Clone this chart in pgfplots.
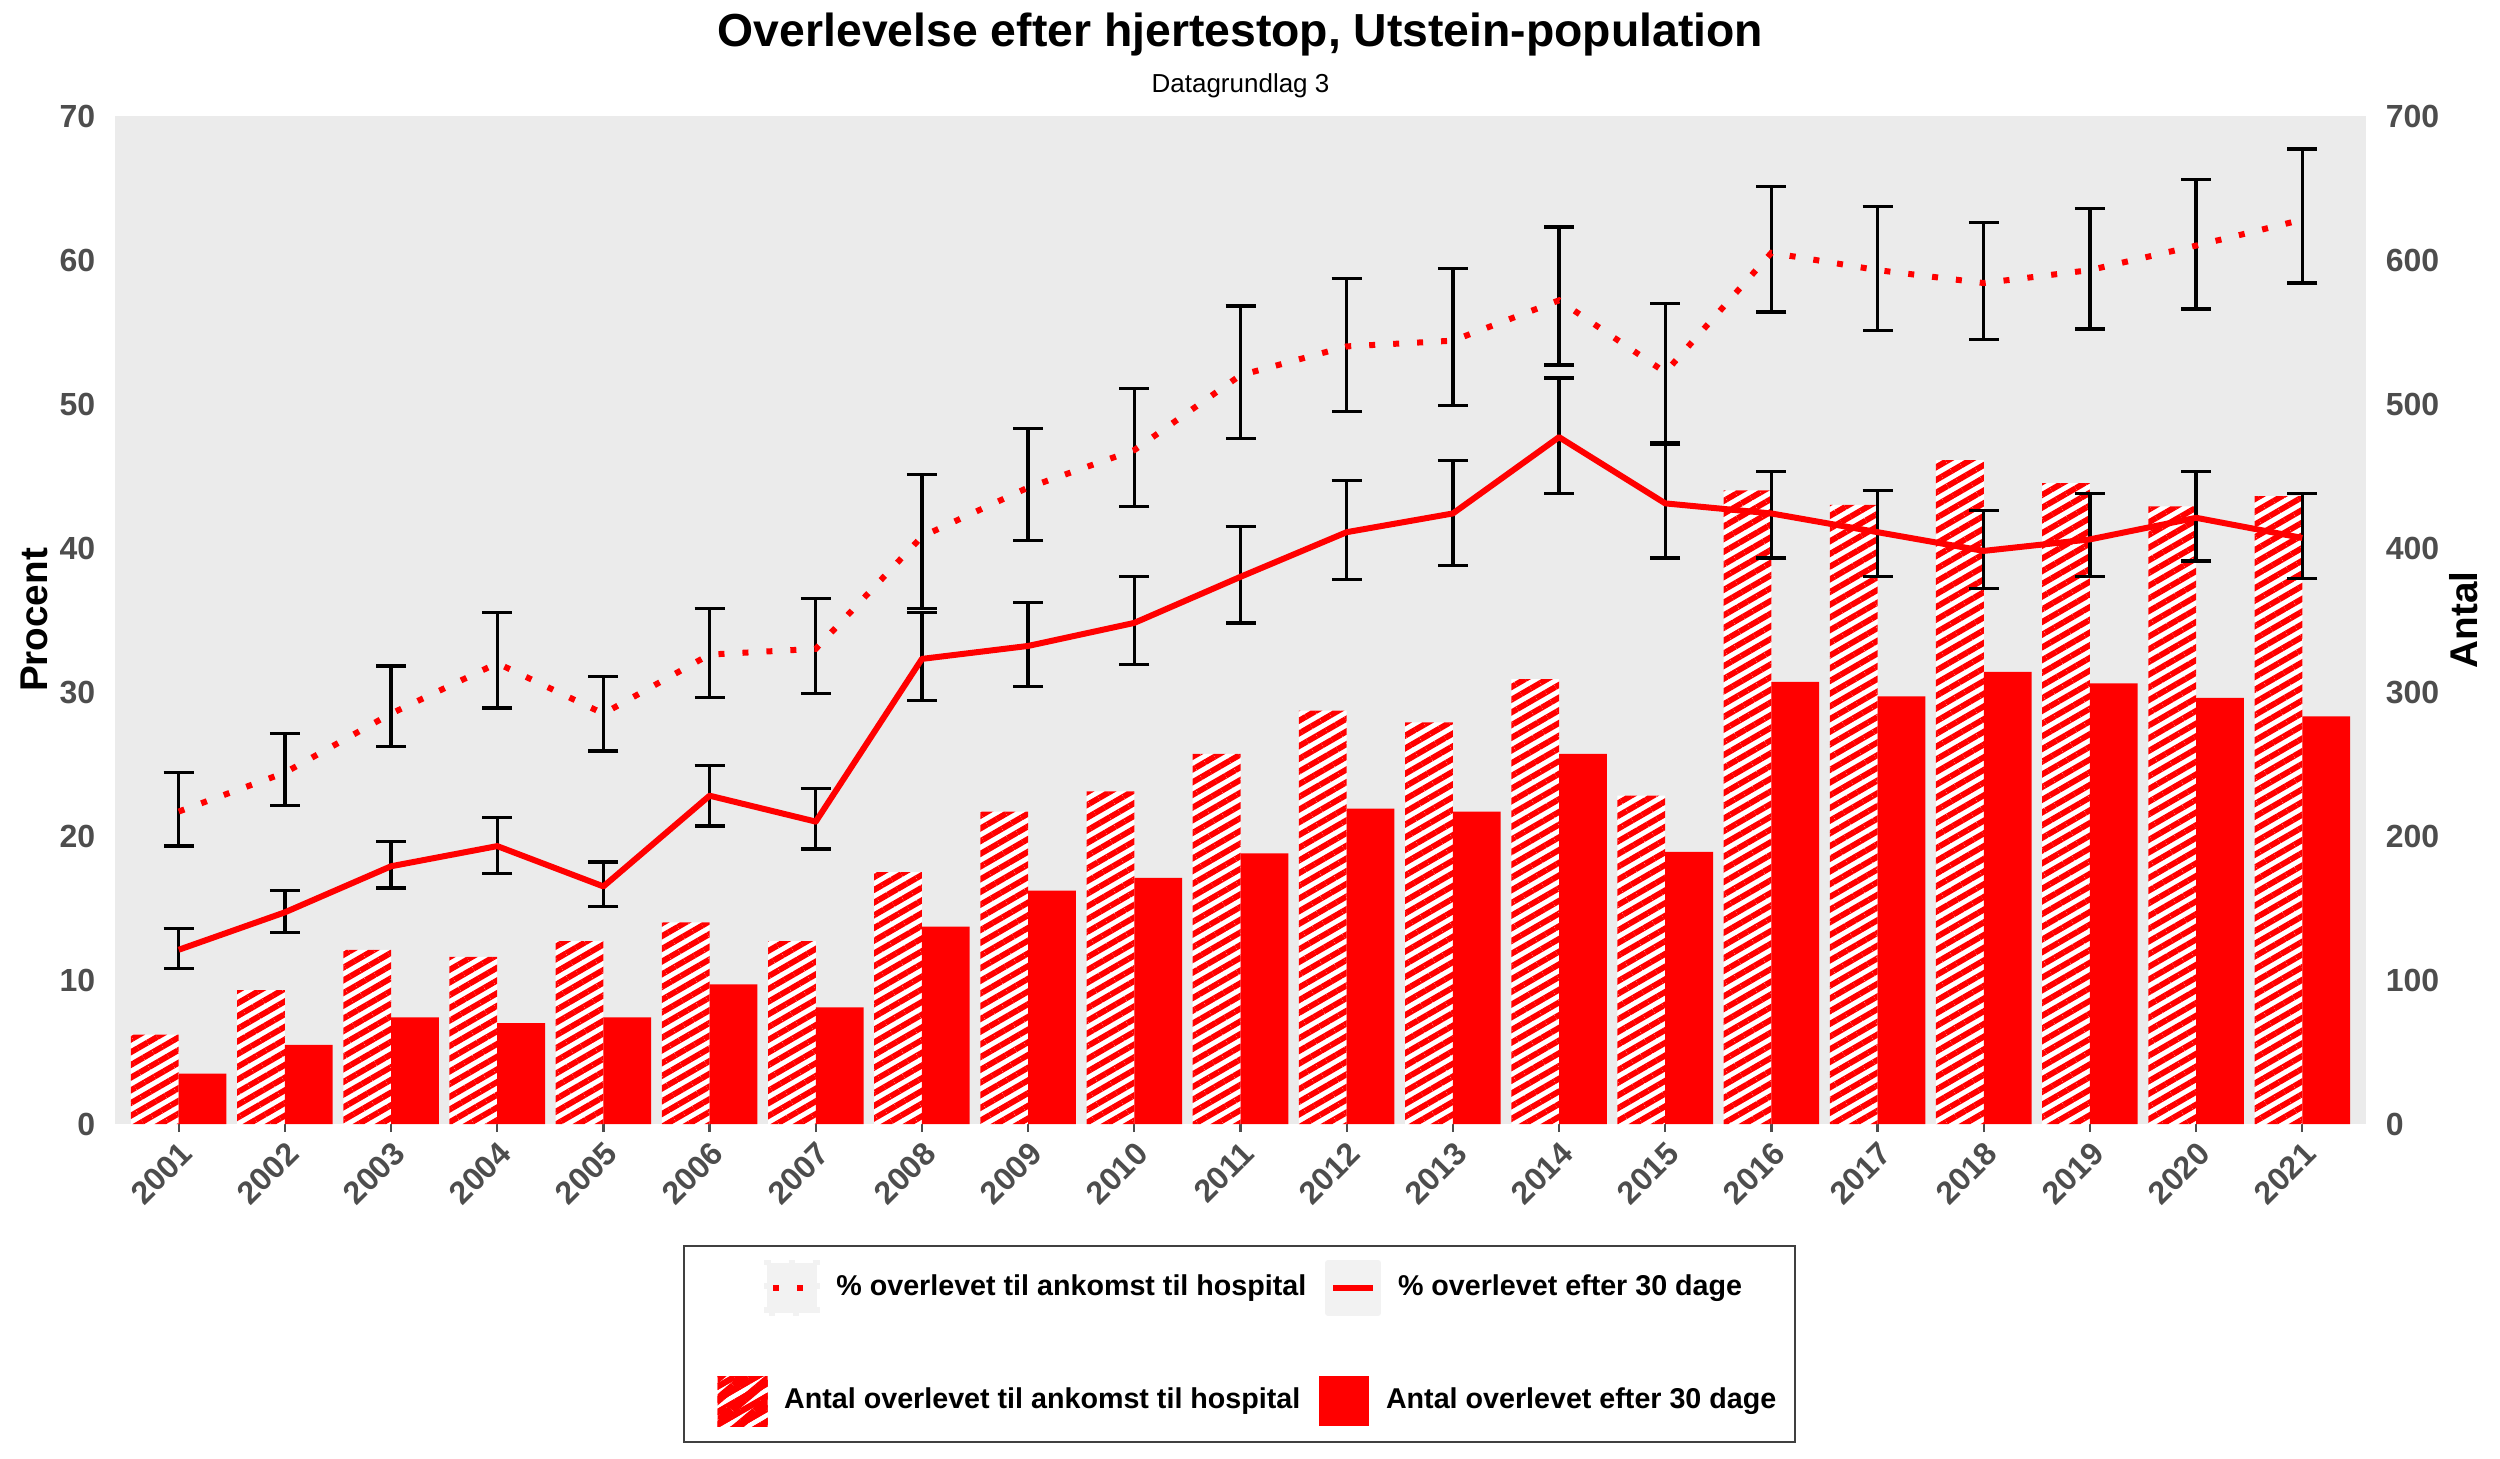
\documentclass[border=0pt]{standalone}
\usepackage{pgfplots}
\pgfplotsset{compat=1.18}
\usepackage{pgfplotstable}
\usepackage{fontspec}
\setmainfont{Liberation Sans}
\usetikzlibrary{patterns.meta}

\definecolor{bggray}{HTML}{EBEBEB}
\definecolor{tickgray}{HTML}{4D4D4D}

% x = position, counts for bars, percentages with CI for lines
\pgfplotstableread{
x year nhosp n30 ph phlo phhi p30 p30lo p30hi
0 2001 62 35 21.7 19.3 24.4 12.1 10.8 13.6
1 2002 93 55 24.4 22.1 27.1 14.7 13.3 16.2
2 2003 121 74 28.5 26.2 31.8 17.9 16.4 19.6
3 2004 116 70 32.0 28.9 35.5 19.3 17.4 21.3
4 2005 127 74 28.5 25.9 31.1 16.5 15.1 18.2
5 2006 140 97 32.6 29.6 35.8 22.8 20.7 24.9
6 2007 127 81 33.0 29.9 36.5 21.0 19.1 23.3
7 2008 175 137 40.8 35.8 45.1 32.3 29.4 35.5
8 2009 217 162 44.2 40.5 48.3 33.2 30.4 36.2
9 2010 231 171 46.8 42.9 51.1 34.8 31.9 38.0
10 2011 257 188 52.0 47.6 56.8 38.0 34.8 41.5
11 2012 287 219 54.0 49.5 58.7 41.1 37.8 44.7
12 2013 279 217 54.4 49.9 59.4 42.4 38.8 46.1
13 2014 309 257 57.2 52.7 62.3 47.7 43.8 51.8
14 2015 228 189 52.2 47.2 57.0 43.1 39.3 47.3
15 2016 440 307 60.5 56.4 65.1 42.4 39.3 45.3
16 2017 430 297 59.3 55.1 63.7 41.1 38.0 44.0
17 2018 461 314 58.4 54.5 62.6 39.8 37.2 42.6
18 2019 445 306 59.3 55.2 63.6 40.6 38.0 43.8
19 2020 429 296 61.0 56.6 65.6 42.1 39.1 45.3
20 2021 436 283 62.8 58.4 67.7 40.7 37.9 43.8
}\data

\pgfplotsset{
  common/.style={
    scale only axis, width=675.3pt, height=302.4pt,
    xmin=-0.6, xmax=20.6, ymin=0,
    axis line style={draw=none},
    tick align=outside, major tick length=2.4pt,
    ytick style={draw=none},
    /pgf/number format/assume math mode=true,
    y tick label style={font=\fontsize{9.6}{11}\selectfont\bfseries, text=tickgray},
    legend columns=2, legend cell align=left,
    legend style={draw=none, fill=none, anchor=west, inner sep=0pt,
      font=\fontsize{8.6}{10}\selectfont\bfseries,
      nodes={inner sep=0pt},
      /tikz/every odd column/.style={column sep=5pt},
      /tikz/every even column/.style={column sep=5.7pt}},
  },
  cibars/.style={forget plot, draw=none, mark=none,
    error bars/.cd, y dir=both, y explicit,
    error bar style={draw=black, solid, line width=1pt},
    error mark=|,
    error mark options={draw=black, solid, line width=1pt, mark size=4.5pt}},
}

\begin{document}
\begin{tikzpicture}
\useasboundingbox (-34.5pt,-100.2pt) rectangle (715.5pt,337.2pt);

% bars, right axis
\begin{axis}[common,
  ymax=700,
  axis x line*=bottom, axis y line*=right,
  axis background/.style={fill=bggray},
  xtick={0,...,20},
  xticklabels={2001,2002,2003,2004,2005,2006,2007,2008,2009,2010,2011,2012,2013,2014,2015,2016,2017,2018,2019,2020,2021},
  xtick style={tickgray, line width=0.7pt},
  x tick label style={rotate=45, anchor=north east, inner sep=1.5pt,
    font=\fontsize{9.6}{11}\selectfont\bfseries, text=tickgray},
  ytick={0,100,...,700},
  legend style={at={(0.2674,-0.2748)}},
]
\addplot[ybar, bar width=0.45, bar shift=-0.225, draw=none, fill=white,
  postaction={pattern={Lines[angle=30,distance=3.3pt,line width=1.75pt]}, pattern color=red},
  legend image code/.code={
    \fill[white] (0pt,-7.5pt) rectangle (15pt,7.5pt);
    \fill[pattern={Lines[angle=40,distance=5pt,line width=2.6pt]}, pattern color=red] (0pt,-7.5pt) rectangle (15pt,7.5pt);}]
  table[x=x, y=nhosp] {\data};
\addlegendentry{Antal overlevet til ankomst til hospital}
\addplot[ybar, bar width=0.45, bar shift=0.225, draw=none, fill=red,
  legend image code/.code={\fill[red] (0pt,-7.5pt) rectangle (15pt,7.5pt);}]
  table[x=x, y=n30] {\data};
\addlegendentry{Antal overlevet efter 30 dage}
\end{axis}

% percentages, left axis
\begin{axis}[common,
  ymax=70,
  axis x line=none, axis y line*=left,
  ytick={0,10,...,70},
  legend style={at={(0.2879,-0.1627)}},
]
\addplot[cibars]
  table[x=x, y=ph, y error plus expr=\thisrow{phhi}-\thisrow{ph},
        y error minus expr=\thisrow{ph}-\thisrow{phlo}] {\data};
\addplot[cibars]
  table[x=x, y=p30, y error plus expr=\thisrow{p30hi}-\thisrow{p30},
        y error minus expr=\thisrow{p30}-\thisrow{p30lo}] {\data};
\addplot[red, line width=1.8pt, mark=none, dash pattern=on 1.8pt off 5.4pt,
  legend image code/.code={
    \fill[black!5] (0pt,-7.5pt) rectangle (15pt,7.5pt);
    \draw[red, line width=1.8pt, dash pattern=on 1.8pt off 5.4pt] (2pt,0pt) -- (15pt,0pt);}]
  table[x=x, y=ph] {\data};
\addlegendentry{\% overlevet til ankomst til hospital}
\addplot[red, line width=1.8pt, mark=none, line join=round,
  legend image code/.code={
    \fill[black!5] (0pt,-7.5pt) rectangle (15pt,7.5pt);
    \draw[red, line width=1.8pt] (1.5pt,0pt) -- (13.5pt,0pt);}]
  table[x=x, y=p30] {\data};
\addlegendentry{\% overlevet efter 30 dage}
\end{axis}

\draw[black!75, line width=0.5pt] (170.7pt,-95.4pt) rectangle (504pt,-36.6pt);

\node[anchor=base, font=\fontsize{13.9}{16}\selectfont\bfseries] at (337.65pt,323.1pt)
  {Overlevelse efter hjertestop, Utstein-population};
\node[anchor=base, font=\fontsize{7.8}{9}\selectfont] at (337.65pt,309.6pt) {Datagrundlag 3};
\node[rotate=90, font=\fontsize{11.6}{13}\selectfont\bfseries] at (-24.3pt,151.2pt) {Procent};
\node[rotate=90, font=\fontsize{11.6}{13}\selectfont\bfseries] at (704.7pt,151.2pt) {Antal};
\end{tikzpicture}
\end{document}
